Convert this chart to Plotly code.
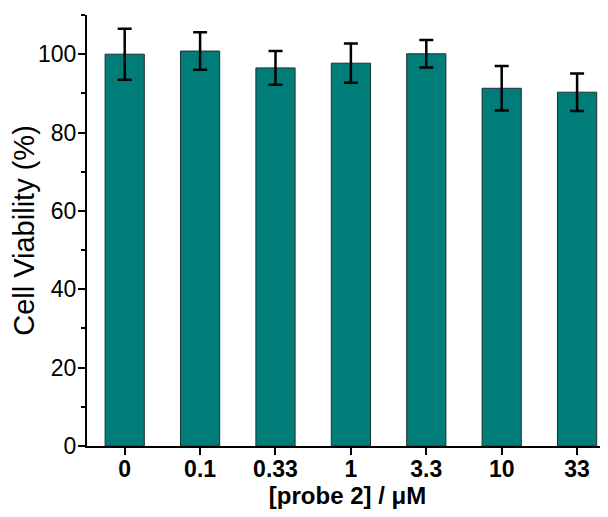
import plotly.graph_objects as go

categories = ["0", "0.1", "0.33", "1", "3.3", "10", "33"]
viability = [100.0, 100.8, 96.5, 97.7, 100.1, 91.3, 90.3]
errors = [6.5, 4.8, 4.3, 5.0, 3.5, 5.7, 4.8]

FONT = "Liberation Sans, Arial, sans-serif"

fig = go.Figure()
fig.add_trace(go.Bar(
    x=categories, y=viability,
    width=0.52,
    marker=dict(color="#007D78", line=dict(color="#1f2f2f", width=1)),
    error_y=dict(type="data", array=errors, visible=True, color="black",
                 thickness=2.5, width=7),
))

fig.update_layout(
    width=600, height=509,
    margin=dict(l=79, r=0, t=7, b=71, autoexpand=False),
    plot_bgcolor="white", paper_bgcolor="white",
    showlegend=False,
    font=dict(family=FONT, color="black"),
)
fig.update_xaxes(
    type="category", range=[-0.5, 6.41], automargin=False,
    showline=True, linecolor="black", linewidth=2,
    ticks="outside", ticklen=7, tickwidth=2, tickcolor="black",
    tickvals=categories, ticktext=["<b>%s</b>" % c for c in categories],
    tickfont=dict(size=23, family=FONT),
    ticklabelstandoff=-6,
    title=dict(text="<b>[probe 2] / μM</b>", font=dict(size=24), standoff=0),
    showgrid=False, zeroline=False,
)
fig.update_yaxes(
    range=[0, 110], automargin=False,
    showline=True, linecolor="black", linewidth=2,
    ticks="outside", ticklen=7, tickwidth=2, tickcolor="black",
    tickvals=[0, 20, 40, 60, 80, 100],
    minor=dict(ticks="outside", ticklen=4, tickwidth=2, tickcolor="black", dtick=10, tick0=0),
    tickfont=dict(size=23),
    ticklabelstandoff=-3,
    title=dict(text="Cell Viability (%)", font=dict(size=29), standoff=9),
    showgrid=False, zeroline=False,
)

fig.write_html("out.html")
